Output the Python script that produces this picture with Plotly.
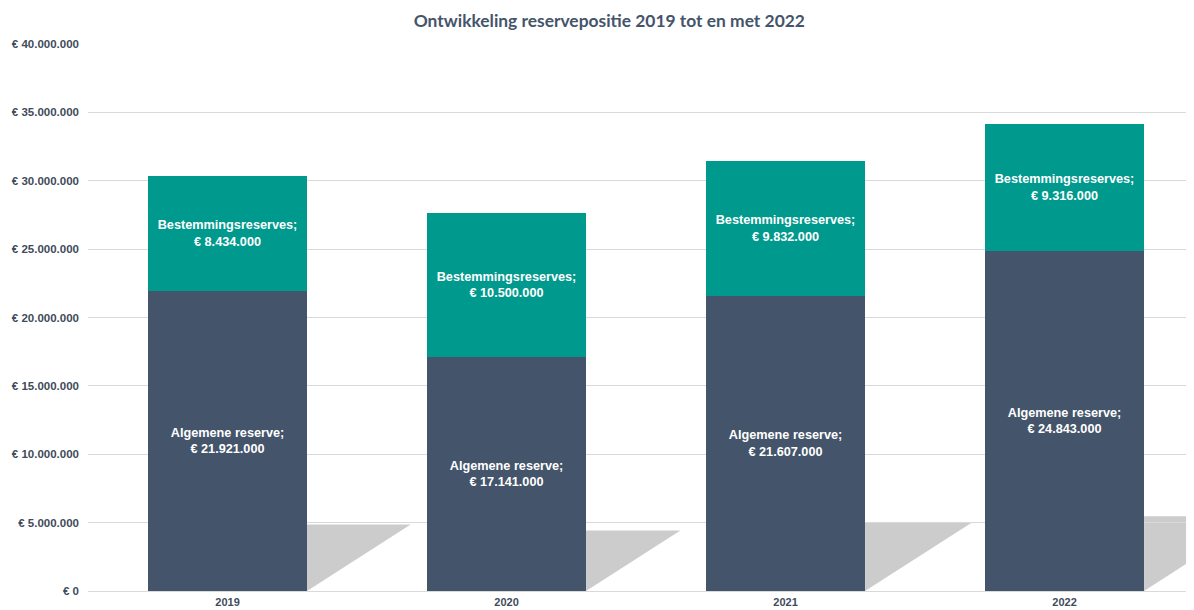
import plotly.graph_objects as go

jaren = ['2019', '2020', '2021', '2022']
algemene_reserve = [21921000, 17141000, 21607000, 24843000]
bestemmingsreserves = [8434000, 10500000, 9832000, 9316000]
y_ticks = [0, 5000000, 10000000, 15000000, 20000000, 25000000, 30000000, 35000000, 40000000]

donker = '#44546A'
groen = '#00998D'
tekst = '#3F4B5B'


def euro(v):
    return '€ ' + f'{v:,.0f}'.replace(',', '.')


fig = go.Figure()

fig.add_bar(
    x=list(range(len(jaren))), y=algemene_reserve, name='Algemene reserve',
    marker=dict(color=donker, line=dict(width=0)),
    text=['Algemene reserve;<br>' + euro(v) for v in algemene_reserve],
    textposition='inside', insidetextanchor='middle',
    textfont=dict(family='Liberation Sans', size=12.7, color='white', weight='bold'),
    width=0.57,
)
fig.add_bar(
    x=list(range(len(jaren))), y=bestemmingsreserves, name='Bestemmingsreserves',
    marker=dict(color=groen, line=dict(width=0)),
    text=['Bestemmingsreserves;<br>' + euro(v) for v in bestemmingsreserves],
    textposition='inside', insidetextanchor='middle',
    textfont=dict(family='Liberation Sans', size=12.7, color='white', weight='bold'),
    width=0.57,
)

# schaduw achter de kolommen (decoratief)
for i, (a, b) in enumerate(zip(algemene_reserve, bestemmingsreserves)):
    h = (a + b) * 0.16
    x0 = i + 0.285
    w = h / 1e6 * 13.675 * 1.56 / 279
    fig.add_shape(type='path', xref='x', yref='y', layer='below',
                  path=f'M {x0},0 L {x0},{h} L {x0 + w},{h} Z',
                  fillcolor='rgba(195,195,195,0.85)', line=dict(width=0))

fig.update_layout(
    barmode='stack',
    width=1186, height=602,
    margin=dict(l=80, r=0, t=36, b=19),
    paper_bgcolor='white', plot_bgcolor='white',
    showlegend=False,
    title=dict(text='Ontwikkeling reservepositie 2019 tot en met 2022',
               x=0.507, xanchor='center', y=0.9785, yanchor='middle',
               font=dict(family='Lato', size=17.4, color=donker, weight='bold')),
    bargap=0,
)
fig.update_xaxes(
    range=[-0.5, 3.464], tickvals=list(range(len(jaren))), ticktext=jaren,
    showgrid=False, zeroline=False, showline=False, ticks='',
    ticklabelstandoff=3,
    tickfont=dict(family='Liberation Sans', size=11, color=tekst, weight='bold'),
    automargin=False,
)
fig.update_yaxes(
    range=[0, 40000000], tickvals=y_ticks, ticktext=[euro(v) for v in y_ticks],
    showgrid=True, gridcolor='#D9D9D9', gridwidth=1, zeroline=True,
    zerolinecolor='#D9D9D9', zerolinewidth=1,
    ticks='', ticklabelstandoff=8,
    tickfont=dict(family='Liberation Sans', size=11.5, color=tekst, weight='bold'),
    automargin=False,
)

fig.write_html('out.html')
